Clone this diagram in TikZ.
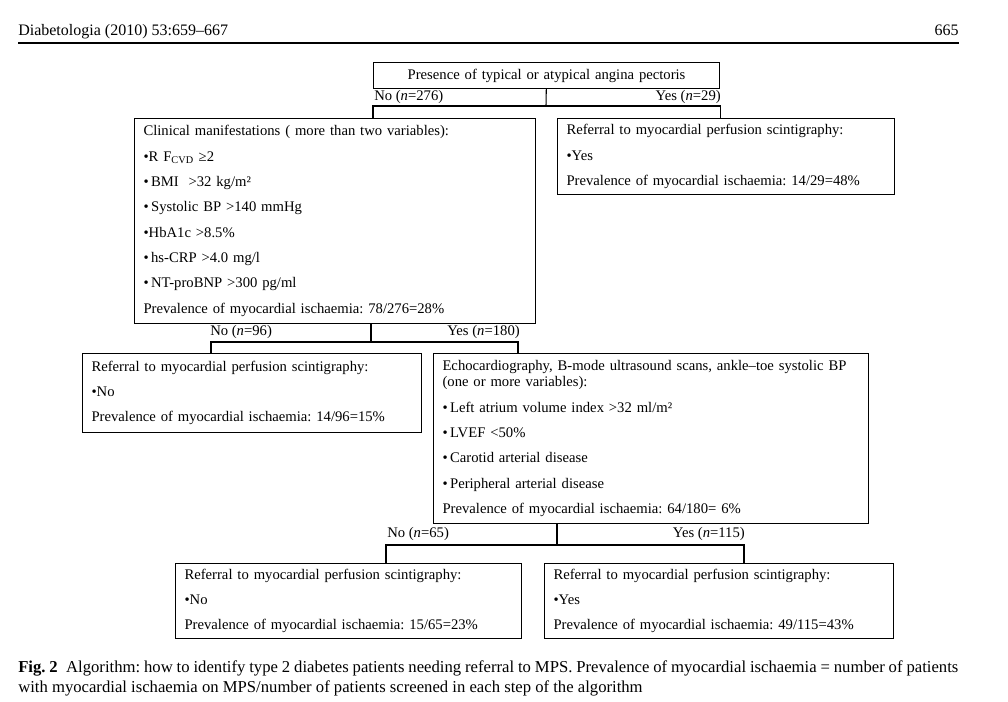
\documentclass[tikz,border=0pt]{standalone}
\usepackage{fontspec}
\setmainfont{Liberation Serif}
\frenchspacing

\begin{document}
\begin{tikzpicture}[
    x=0.75pt, y=-0.75pt,
    every node/.style={font=\fontsize{11}{19}\selectfont},
    box/.style={rectangle, draw=black, line width=0.8pt, anchor=north west, align=left, inner xsep=6.75pt, inner ysep=0pt},
    lbl/.style={inner sep=0pt},
    link/.style={line width=0.8pt}
]
\useasboundingbox (0,0) rectangle (1008,701);

% HEADER
\node[lbl, anchor=base west, font=\fontsize{12}{14}\selectfont] (journal) at (18,35) {Diabetologia (2010) 53:659–667};
\node[lbl, anchor=base east, font=\fontsize{12}{14}\selectfont] (pagenum) at (959,35) {665};
\draw[line width=2.2pt] (18,43) -- (959,43);

% NODES
\node[box, align=center, text width=246pt, minimum height=19.5pt] (angina) at (373,62) {Presence of typical or atypical angina pectoris};
\node[box, text width=287.25pt, minimum height=153.75pt] (clinical) at (134,118) {Clinical manifestations ( more than two variables):\\
•R F\textsubscript{CVD} ≥2\\
•\,BMI\ \ >32 kg/m²\\
•\,Systolic BP >140 mmHg\\
•HbA1c >8.5\%\\
•\,hs-CRP >4.0 mg/l\\
•\,NT-proBNP >300 pg/ml\\
Prevalence of myocardial ischaemia: 78/276=28\%};
\node[box, text width=239.25pt, minimum height=57pt] (referyes) at (557,118) {Referral to myocardial perfusion scintigraphy:\\
•Yes\\
Prevalence of myocardial ischaemia: 14/29=48\%};
\node[box, text width=240.75pt, minimum height=59.25pt] (referno) at (82,353) {Referral to myocardial perfusion scintigraphy:\\
•No\\
Prevalence of myocardial ischaemia: 14/96=15\%};
\node[box, text width=312.75pt, minimum height=127.5pt] (echo) at (433,353) {Echocardiography, B-mode ultrasound scans, ankle–toe systolic BP\\[-7pt]
(one or more variables):\\
•\,Left atrium volume index >32 ml/m²\\
•\,LVEF <50\%\\
•\,Carotid arterial disease\\
•\,Peripheral arterial disease\\
Prevalence of myocardial ischaemia: 64/180= 6\%};
\node[box, text width=246pt, minimum height=56.25pt] (echono) at (175,563) {Referral to myocardial perfusion scintigraphy:\\
•No\\
Prevalence of myocardial ischaemia: 15/65=23\%};
\node[box, text width=248.25pt, minimum height=56.25pt] (echoyes) at (544,563) {Referral to myocardial perfusion scintigraphy:\\
•Yes\\
Prevalence of myocardial ischaemia: 49/115=43\%};

% BRANCH LABELS
\node[lbl, anchor=west] (anginano) at (374,97) {No (\textit{n}=276)};
\node[lbl, anchor=east] (anginayes) at (721,97) {Yes (\textit{n}=29)};
\node[lbl, anchor=west] (clinicalno) at (210,332) {No (\textit{n}=96)};
\node[lbl, anchor=east] (clinicalyes) at (520,332) {Yes (\textit{n}=180)};
\node[lbl, anchor=west] (echonolbl) at (387,534) {No (\textit{n}=65)};
\node[lbl, anchor=east] (echoyeslbl) at (745,534) {Yes (\textit{n}=115)};

% LINES
\coordinate (fork1) at (546,106);
\coordinate (fork2) at (371,342);
\coordinate (fork3) at (557,545);
\draw[link] (angina) -- (fork1);
\draw[link] (clinical.north -| angina.west) |- (fork1) -| (referyes.north -| angina.east);
\draw[link] (clinical.south -| fork2) -- (fork2);
\draw[link] (referno.north -| 211,0) |- (fork2) -| (echo.north -| 518,0);
\draw[link] (echo.south -| fork3) -- (fork3);
\draw[link] (echono.north -| 386,0) |- (fork3) -| (echoyes.north -| 744,0);

% CAPTION
\node[lbl, anchor=north west, text width=705pt, align=justify, font=\fontsize{12.5}{15}\selectfont] (caption) at (18,660) {\textbf{Fig. 2}\hspace{0.5em}Algorithm: how to identify type 2 diabetes patients needing referral to MPS. Prevalence of myocardial ischaemia = number of patients\linebreak with myocardial ischaemia on MPS/number of patients screened in each step of the algorithm};

\end{tikzpicture}
\end{document}
